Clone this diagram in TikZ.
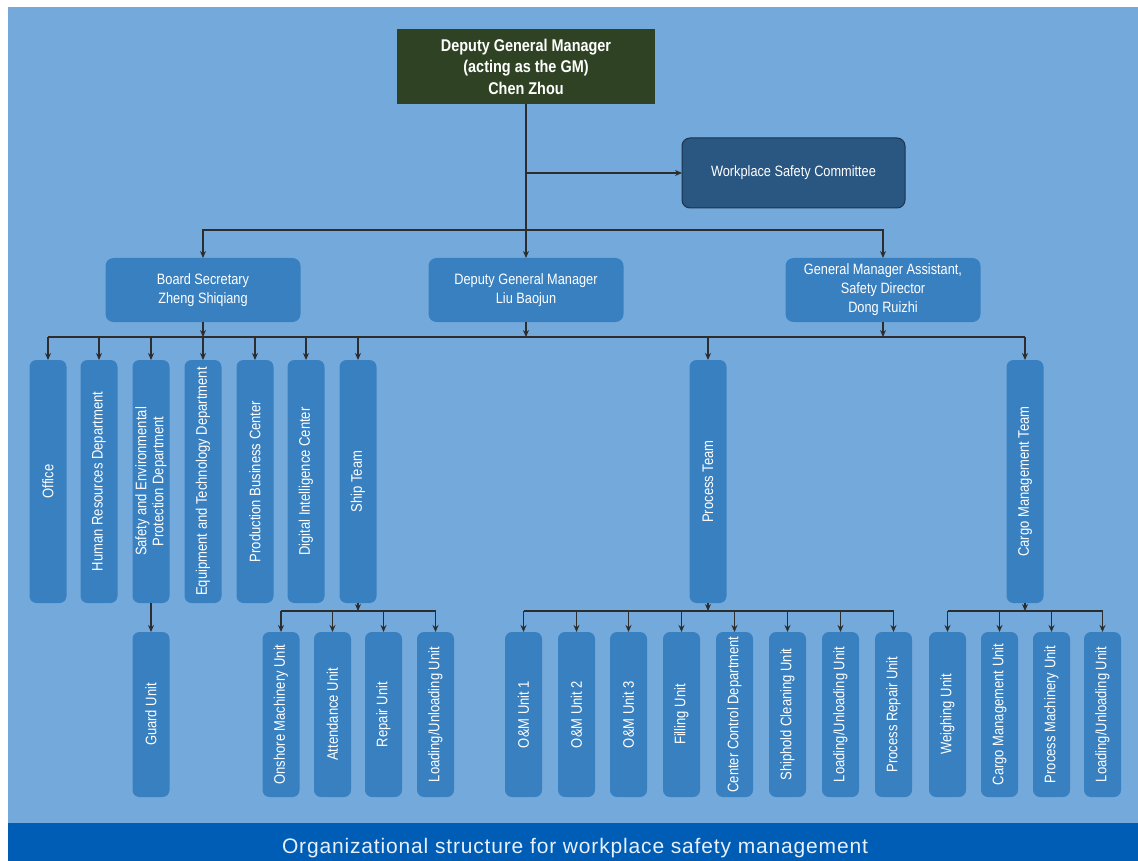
\documentclass[tikz,border=0pt]{standalone}
\usepackage{fontspec}
\setmainfont{Liberation Sans}[FakeStretch=0.85]
\newfontfamily\capfont{Liberation Sans}[LetterSpace=4]
\usetikzlibrary{arrows.meta}
\definecolor{bgblue}{RGB}{116,169,220}
\definecolor{boxblue}{RGB}{57,128,193}
\definecolor{topgreen}{RGB}{47,67,36}
\definecolor{wscblue}{RGB}{42,86,130}
\definecolor{wscedge}{RGB}{30,50,75}
\definecolor{bandblue}{RGB}{0,93,182}
\definecolor{linegray}{RGB}{45,45,45}
\definecolor{captext}{RGB}{232,240,250}
\begin{document}
\begin{tikzpicture}[x=1pt,y=-1pt,
  every node/.style={inner sep=0pt,outer sep=0pt},
  conn/.style={draw=linegray,line width=1.1pt},
  arr/.style={conn,-{Stealth[length=7pt,width=6pt]}},
  topbox/.style={fill=topgreen,text=white,minimum width=258pt,minimum height=75pt,align=center,
    font=\fontsize{17}{21.5}\selectfont\bfseries},
  wscbox/.style={fill=wscblue,draw=wscedge,line width=1pt,rounded corners=8pt,text=white,
    minimum width=223pt,minimum height=70pt,align=center,font=\fontsize{15}{19}\selectfont},
  midbox/.style={fill=boxblue,rounded corners=8pt,text=white,minimum width=195pt,minimum height=64pt,
    align=center,font=\fontsize{15}{19}\selectfont},
  colbox/.style={fill=boxblue,rounded corners=7pt,minimum width=37pt,minimum height=243pt},
  unitbox/.style={fill=boxblue,rounded corners=7pt,minimum width=37pt,minimum height=165pt},
  vtext/.style={rotate=90,text=white,align=center,font=\fontsize{15.3}{17}\selectfont}
]
\useasboundingbox (0,0) rectangle (1138,861);
\fill[white] (0,0) rectangle (1138,861);
\fill[bgblue] (8,7) rectangle (1138,823);
\node[fill=bandblue,minimum width=1130pt,minimum height=38pt,anchor=north west] (band) at (8,823) {};
\node[text=captext,font=\capfont\fontsize{21}{24}\selectfont] (cap) at (575,848) {Organizational structure for workplace safety management};

% top level
\node[topbox] (top) at (526,66.5) {Deputy General Manager\\(acting as the GM)\\Chen Zhou};
\node[wscbox] (wsc) at (793.5,173) {\raisebox{-2pt}{Workplace Safety Committee}};

% second level
\node[midbox] (bs) at (203,290) {Board Secretary\\Zheng Shiqiang};
\node[midbox] (liu) at (526,290) {Deputy General Manager\\Liu Baojun};
\node[midbox] (dong) at (883,290) {General Manager Assistant,\\Safety Director\\Dong Ruizhi};

% departments
\node[colbox,label={[vtext]center:Office}] (office) at (48,481.5) {};
\node[colbox,label={[vtext]center:Human Resources Department}] (hr) at (99,481.5) {};
\node[colbox,label={[vtext]center:{Safety and Environmental\\Protection Department}}] (safety) at (151,481.5) {};
\node[colbox,label={[vtext]center:Equipment and Technology Department}] (equip) at (203,481.5) {};
\node[colbox,label={[vtext]center:Production Business Center}] (prod) at (255,481.5) {};
\node[colbox,label={[vtext]center:Digital Intelligence Center}] (digital) at (306,481.5) {};
\node[colbox,label={[vtext]center:Ship Team}] (ship) at (358,481.5) {};
\node[colbox,label={[vtext]center:Process Team}] (process) at (708,481.5) {};
\node[colbox,label={[vtext]center:Cargo Management Team}] (cargo) at (1025,481.5) {};

% units
\node[unitbox,label={[vtext]center:Guard Unit}] (guard) at (151,714.5) {};
\node[unitbox,label={[vtext]center:Onshore Machinery Unit}] (s1) at (281,714.5) {};
\node[unitbox,label={[vtext]center:Attendance Unit}] (s2) at (332.5,714.5) {};
\node[unitbox,label={[vtext]center:Repair Unit}] (s3) at (383.5,714.5) {};
\node[unitbox,label={[vtext]center:Loading/Unloading Unit}] (s4) at (435.5,714.5) {};
\node[unitbox,label={[vtext]center:O\&M Unit 1}] (p1) at (523.5,714.5) {};
\node[unitbox,label={[vtext]center:O\&M Unit 2}] (p2) at (576.5,714.5) {};
\node[unitbox,label={[vtext]center:O\&M Unit 3}] (p3) at (628.5,714.5) {};
\node[unitbox,label={[vtext]center:Filling Unit}] (p4) at (681.5,714.5) {};
\node[unitbox,label={[vtext]center:Center Control Department}] (p5) at (734.5,714.5) {};
\node[unitbox,label={[vtext]center:Shiphold Cleaning Unit}] (p6) at (787.5,714.5) {};
\node[unitbox,label={[vtext]center:Loading/Unloading Unit}] (p7) at (840.5,714.5) {};
\node[unitbox,label={[vtext]center:Process Repair Unit}] (p8) at (893.5,714.5) {};
\node[unitbox,label={[vtext]center:Weighing Unit}] (c1) at (947.5,714.5) {};
\node[unitbox,label={[vtext]center:Cargo Management Unit}] (c2) at (999.5,714.5) {};
\node[unitbox,label={[vtext]center:Process Machinery Unit}] (c3) at (1051.5,714.5) {};
\node[unitbox,label={[vtext]center:Loading/Unloading Unit}] (c4) at (1102.5,714.5) {};

% junction coordinates
\coordinate (jw) at (526,173);
\coordinate (j2) at (526,230);
\coordinate (bus) at (526,337);
\coordinate (sbus) at (358,611);
\coordinate (pbus) at (708,611);
\coordinate (cbus) at (1025,611);

% top connectors
\draw[arr] (top.south) -- (liu.north);
\draw[arr] (jw) -- (wsc.west);
\draw[arr] (j2) -| (bs.north);
\draw[arr] (j2) -| (dong.north);

% second-level bus
\draw[conn] (office.north |- bus) -- (cargo.north |- bus);
\foreach \n in {bs,liu,dong} \draw[arr] (\n.south) -- (\n.south |- bus);
\foreach \n in {office,hr,safety,equip,prod,digital,ship,process,cargo}
  \draw[arr] (\n.north |- bus) -- (\n.north);

% guard
\draw[arr] (safety.south) -- (guard.north);

% ship team
\draw[arr] (ship.south) -- (sbus);
\draw[conn] (s1.north |- sbus) -- (s4.north |- sbus);
\foreach \n in {s1,s2,s3,s4} \draw[arr] (\n.north |- sbus) -- (\n.north);

% process team
\draw[arr] (process.south) -- (pbus);
\draw[conn] (p1.north |- pbus) -- (p8.north |- pbus);
\foreach \n in {p1,p2,p3,p4,p5,p6,p7,p8} \draw[arr] (\n.north |- pbus) -- (\n.north);

% cargo team
\draw[arr] (cargo.south) -- (cbus);
\draw[conn] (c1.north |- cbus) -- (c4.north |- cbus);
\foreach \n in {c1,c2,c3,c4} \draw[arr] (\n.north |- cbus) -- (\n.north);
\end{tikzpicture}
\end{document}
